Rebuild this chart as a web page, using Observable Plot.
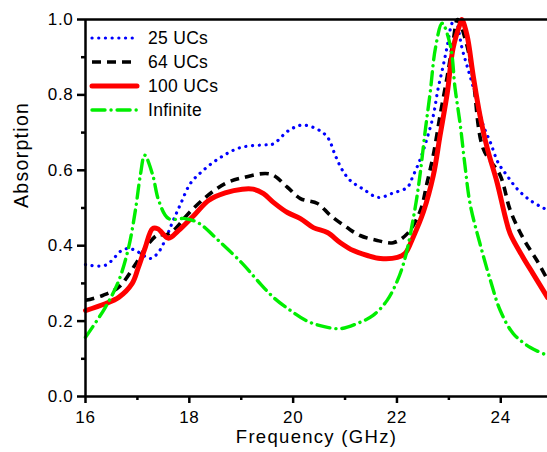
<!DOCTYPE html>
<html>
<head>
<meta charset="utf-8">
<script src="https://cdn.jsdelivr.net/npm/d3@7"></script>
<script src="https://cdn.jsdelivr.net/npm/@observablehq/plot@0.6"></script>
<style>
  html, body { margin: 0; padding: 0; background: #fff; }
  #wrap { position: relative; width: 547px; height: 452px; font-family: "Liberation Sans", Arial, sans-serif; }
  #legend { position: absolute; left: 0; top: 0; }
  #chart g[aria-label$="tick label"] { font-size: 17px; letter-spacing: 0.7px; }
  .ttl text { letter-spacing: 1.3px; }
</style>
</head>
<body>
<div id="wrap"><div id="chart"></div><svg id="legend" width="260" height="130"></svg></div>
<script>
// ---- data ----
const seriesNames = ["25 UCs", "64 UCs", "100 UCs", "Infinite"];

const freq25 = [16.0,16.38,16.73,16.92,17.25,17.39,17.5,17.69,17.83,18.02,18.27,18.6,18.98,19.5,19.62,19.91,20.18,20.52,20.68,20.81,20.95,21.1,21.35,21.64,21.93,22.2,22.31,22.45,22.58,22.7,22.79,22.89,22.97,23.06,23.12,23.26,23.35,23.45,23.55,23.66,23.8,23.95,24.12,24.32,24.57,24.82,24.9];
const abs25  = [0.35,0.348,0.39,0.39,0.366,0.38,0.405,0.467,0.51,0.565,0.6,0.634,0.66,0.668,0.67,0.705,0.72,0.705,0.684,0.64,0.6,0.573,0.55,0.528,0.54,0.555,0.585,0.63,0.685,0.745,0.815,0.877,0.93,0.99,1.0,0.92,0.877,0.83,0.78,0.72,0.674,0.62,0.586,0.55,0.52,0.5,0.495];

const freq64 = [16.0,16.33,16.64,16.96,17.21,17.41,17.54,17.73,17.98,18.31,18.69,19.02,19.56,19.89,20.14,20.47,20.72,21.04,21.29,21.62,21.93,22.2,22.45,22.58,22.7,22.83,22.97,23.08,23.17,23.35,23.47,23.66,23.99,24.18,24.43,24.7,24.9];
const abs64  = [0.255,0.268,0.29,0.35,0.405,0.43,0.428,0.445,0.485,0.528,0.565,0.58,0.59,0.555,0.525,0.512,0.48,0.448,0.427,0.414,0.408,0.432,0.493,0.567,0.64,0.745,0.85,0.94,1.0,0.93,0.84,0.658,0.586,0.495,0.42,0.36,0.31];

const freq100 = [16.0,16.38,16.64,16.9,17.02,17.15,17.29,17.39,17.6,17.79,18.12,18.37,18.69,19.02,19.23,19.43,19.62,19.89,20.14,20.39,20.66,20.91,21.16,21.43,21.68,22.01,22.16,22.31,22.51,22.7,22.83,22.97,23.08,23.22,23.25,23.35,23.47,23.6,23.74,23.93,24.08,24.18,24.43,24.62,24.9];
const abs100  = [0.228,0.246,0.263,0.3,0.343,0.395,0.445,0.445,0.42,0.44,0.485,0.52,0.54,0.55,0.55,0.538,0.515,0.488,0.472,0.448,0.435,0.408,0.387,0.374,0.366,0.369,0.38,0.422,0.49,0.586,0.692,0.806,0.923,0.99,1.0,0.958,0.85,0.745,0.658,0.567,0.48,0.432,0.369,0.326,0.263];

const freqInf = [16.0,16.38,16.64,16.83,16.96,17.06,17.14,17.29,17.41,17.6,17.92,18.18,18.56,19.02,19.31,19.62,19.95,20.27,20.58,20.91,21.24,21.54,21.81,22.01,22.16,22.35,22.45,22.54,22.64,22.74,22.87,23.03,23.12,23.22,23.31,23.41,23.6,23.8,23.99,24.24,24.57,24.9];
const absInf  = [0.157,0.236,0.307,0.395,0.493,0.59,0.64,0.59,0.52,0.472,0.472,0.46,0.414,0.353,0.308,0.263,0.228,0.2,0.186,0.18,0.194,0.215,0.255,0.308,0.369,0.5,0.594,0.7,0.806,0.923,0.99,0.93,0.817,0.72,0.613,0.51,0.405,0.308,0.228,0.167,0.13,0.109];

const xMajorTicks = [16, 18, 20, 22, 24];
const xMinorTicks = [17, 19, 21, 23];
const yMajorTicks = [0, 0.2, 0.4, 0.6, 0.8, 1.0];
const yMinorTicks = [0.1, 0.3, 0.5, 0.7, 0.9];
const xTitle = "Frequency (GHz)";
const yTitle = "Absorption";

// ---- styles ----
const styles = [
  {color: "#0000ff", width: 3.2, dash: "0.1 6.6", cap: "round"},
  {color: "#000000", width: 3.6, dash: "9 6", cap: "butt"},
  {color: "#ff0000", width: 5, dash: null, cap: "round"},
  {color: "#00ee00", width: 3.4, dash: "13 6 0.1 6", cap: "round"}
];

const toRows = (f, a) => f.map((x, i) => ({x, y: a[i]}));
const series = [toRows(freq25, abs25), toRows(freq64, abs64), toRows(freq100, abs100), toRows(freqInf, absInf)];

const lineMarks = series.map((rows, i) => Plot.line(rows, {
  x: "x", y: "y", curve: "catmull-rom",
  stroke: styles[i].color, strokeWidth: styles[i].width,
  strokeDasharray: styles[i].dash, strokeLinecap: styles[i].cap, strokeLinejoin: "round"
}));

const noLabel = () => "";
const chart = Plot.plot({
  width: 547, height: 452,
  marginLeft: 85, marginRight: 0, marginTop: 19, marginBottom: 56,
  style: {fontFamily: '"Liberation Sans", Arial, sans-serif', fontSize: "17px", color: "#000", background: "#fff"},
  x: {domain: [16, 24.9]},
  y: {domain: [0, 1]},
  marks: [
    Plot.axisX({ticks: xMajorTicks, tickSize: 7, tickPadding: 7, strokeWidth: 2.5, label: null, tickFormat: d => String(d)}),
    Plot.axisX({ticks: xMinorTicks, tickSize: 4, strokeWidth: 2.5, tickFormat: noLabel, label: null}),
    Plot.axisY({ticks: yMajorTicks, tickSize: 8, tickPadding: 4, strokeWidth: 2.5, label: null, tickFormat: d3.format(".1f")}),
    Plot.axisY({ticks: yMinorTicks, tickSize: 4, strokeWidth: 2.5, tickFormat: noLabel, label: null}),
    ...lineMarks,
    Plot.ruleY([0], {stroke: "#000", strokeWidth: 2.5}),
    Plot.ruleY([1], {stroke: "#000", strokeWidth: 2.5}),
    Plot.ruleX([16], {stroke: "#000", strokeWidth: 2.5}),
    Plot.text([xTitle], {frameAnchor: "bottom", dy: 46, fontSize: 18.5, fill: "#000", className: "ttl"}),
    Plot.text([yTitle], {frameAnchor: "left", dx: -64, rotate: -90, fontSize: 19.5, fill: "#000", className: "ttl"})
  ]
});
document.getElementById("chart").append(chart);

// ---- legend ----
const leg = d3.select("#legend");
const rowY = [38, 62, 86, 110];
seriesNames.forEach((name, i) => {
  const s = styles[i];
  leg.append("line").attr("x1", 92).attr("x2", 137).attr("y1", rowY[i]).attr("y2", rowY[i])
    .attr("stroke", s.color).attr("stroke-width", s.width)
    .attr("stroke-dasharray", s.dash).attr("stroke-linecap", s.cap);
  leg.append("text").attr("x", 148).attr("y", rowY[i]).attr("dy", "0.35em")
    .attr("font-size", 17.5).attr("letter-spacing", "0.3px")
    .attr("font-family", '"Liberation Sans", Arial, sans-serif').text(name);
});
</script>
</body>
</html>
